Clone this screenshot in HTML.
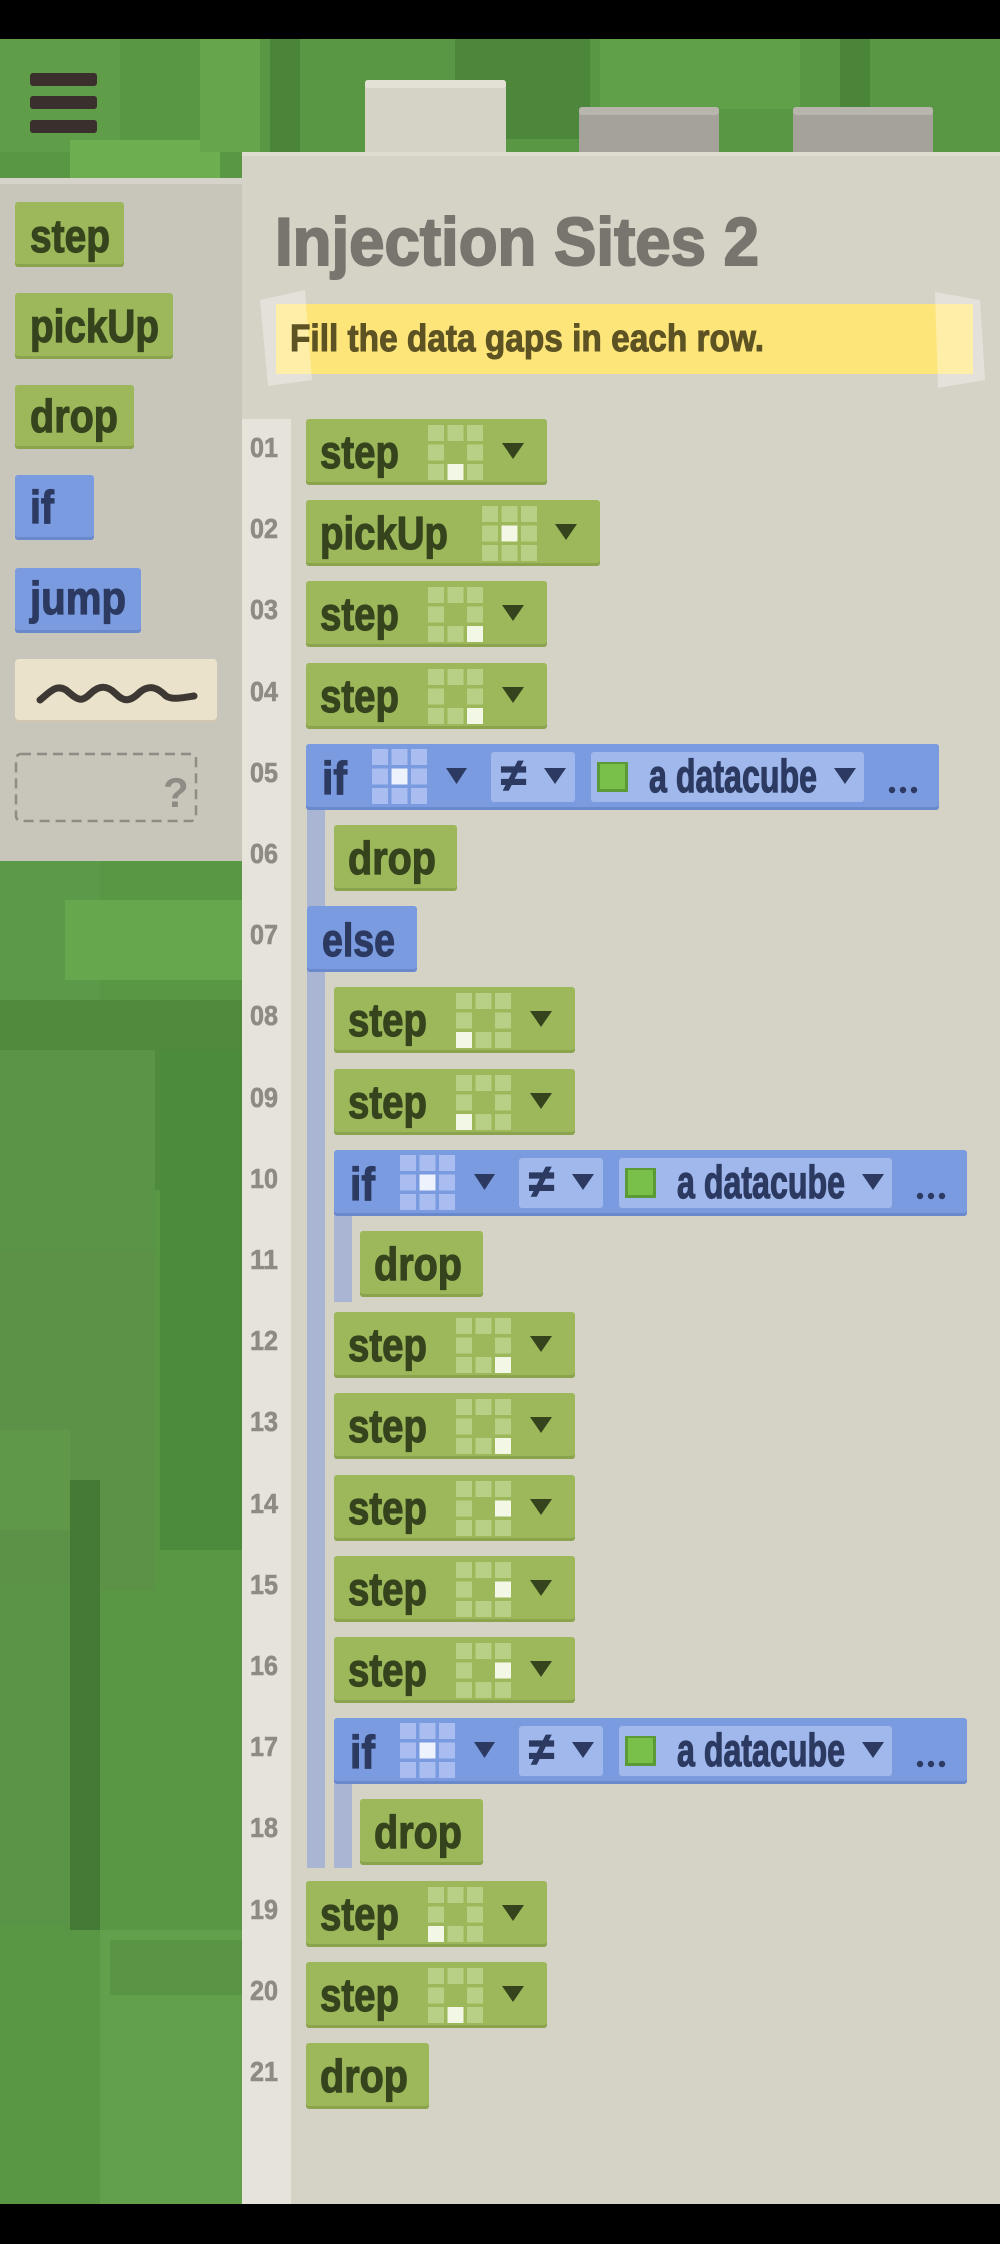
<!DOCTYPE html>
<html><head><meta charset="utf-8"><style>
html,body{margin:0;padding:0;background:#000;}
svg{display:block;}
.g{font-family:"Liberation Sans",sans-serif;font-weight:bold;font-size:46px;fill:#36441e;stroke:#36441e;stroke-width:1.2px;}
.b{font-family:"Liberation Sans",sans-serif;font-weight:bold;font-size:46px;fill:#2c3a62;stroke:#2c3a62;stroke-width:1.2px;}
.n{font-family:"Liberation Sans",sans-serif;font-weight:bold;font-size:28px;fill:#8e8b84;stroke:#8e8b84;stroke-width:0.6px;}
.w{fill:#f3f7e6;}
</style></head><body>
<svg width="1000" height="2244" viewBox="0 0 1000 2244" xmlns="http://www.w3.org/2000/svg">
<defs>
 <g id="gg" fill="#b8cf86">
  <rect x="0" y="0" width="16" height="16"/><rect x="19.5" y="0" width="16" height="16"/><rect x="39" y="0" width="16" height="16"/>
  <rect x="0" y="19.5" width="16" height="16"/><rect x="39" y="19.5" width="16" height="16"/>
  <rect x="0" y="39" width="16" height="16"/><rect x="19.5" y="39" width="16" height="16"/><rect x="39" y="39" width="16" height="16"/>
 </g>
 <g id="bg" fill="#a9bdf0">
  <rect x="0" y="0" width="16" height="16"/><rect x="19.5" y="0" width="16" height="16"/><rect x="39" y="0" width="16" height="16"/>
  <rect x="0" y="19.5" width="16" height="16"/><rect x="19.5" y="19.5" width="16" height="16" fill="#eef2fc"/><rect x="39" y="19.5" width="16" height="16"/>
  <rect x="0" y="39" width="16" height="16"/><rect x="19.5" y="39" width="16" height="16"/><rect x="39" y="39" width="16" height="16"/>
 </g>
 <g id="stepbg">
  <rect x="0" y="3" width="241" height="63" rx="3" fill="#8aa34c"/>
  <rect x="0" y="0" width="241" height="63" rx="3" fill="#9cb85a"/>
  <polygon points="196,24 218,24 207,40" fill="#36441e"/>
 </g>
 <g id="pickbg">
  <rect x="0" y="3" width="294" height="63" rx="3" fill="#8aa34c"/>
  <rect x="0" y="0" width="294" height="63" rx="3" fill="#9cb85a"/>
  <polygon points="249,24 271,24 260,40" fill="#36441e"/>
 </g>
 <g id="dropbg">
  <rect x="0" y="3" width="123" height="63" rx="3" fill="#8aa34c"/>
  <rect x="0" y="0" width="123" height="63" rx="3" fill="#9cb85a"/>
 </g>
 <g id="ifbg">
  <rect x="0" y="3" width="633" height="63" rx="3" fill="#6a88cc"/>
  <rect x="0" y="0" width="633" height="63" rx="3" fill="#7a9be0"/>
  <use href="#bg" x="66" y="5"/>
  <polygon points="140,24 161,24 150.5,40" fill="#2c3a62"/>
  <rect x="185" y="8" width="84" height="50" rx="3" fill="#a0b8ec"/>
  <polygon points="238,24 260,24 249,40" fill="#2c3a62"/>
  <rect x="285" y="8" width="273" height="50" rx="3" fill="#a0b8ec"/>
  <rect x="291" y="18" width="31" height="30" fill="#5c9a38"/>
  <rect x="294" y="20" width="25" height="25" fill="#79c04a"/>
  <polygon points="528,24 550,24 539,40" fill="#2c3a62"/>
  <circle cx="586" cy="46" r="3.2" fill="#2c3a62"/><circle cx="597" cy="46" r="3.2" fill="#2c3a62"/><circle cx="608" cy="46" r="3.2" fill="#2c3a62"/>
 </g>
</defs>

<rect x="0" y="0" width="1000" height="2244" fill="#000"/>
<rect x="0" y="39" width="1000" height="2165" fill="#5a9745"/>
<rect x="0" y="39" width="120" height="113" fill="#5f9d48"/>
<rect x="70" y="140" width="150" height="40" fill="#6cae50"/>
<rect x="200" y="39" width="60" height="113" fill="#66a54c"/>
<rect x="270" y="39" width="30" height="113" fill="#4b853a"/>
<rect x="455" y="39" width="135" height="100" fill="#4d873c"/>
<rect x="600" y="39" width="200" height="70" fill="#60a049"/>
<rect x="840" y="39" width="30" height="113" fill="#4b853a"/>
<rect x="880" y="55" width="120" height="75" fill="#5a9745"/>
<rect x="0" y="861" width="100" height="140" fill="#5c9948"/>
<rect x="65" y="900" width="180" height="80" fill="#66a64c"/>
<rect x="0" y="1000" width="243" height="190" fill="#4f8a3d"/>
<rect x="0" y="1050" width="155" height="205" fill="#5a9447"/>
<rect x="0" y="1250" width="155" height="340" fill="#5b9247"/>
<rect x="160" y="1050" width="83" height="500" fill="#4c8a3c"/>
<rect x="0" y="1430" width="70" height="100" fill="#5e9848"/>
<rect x="70" y="1480" width="30" height="450" fill="#447a35"/>
<rect x="0" y="1585" width="70" height="340" fill="#5a9447"/>
<rect x="100" y="1930" width="143" height="274" fill="#63a04b"/>
<rect x="110" y="1940" width="133" height="55" fill="#5a9545"/>

<rect x="30" y="73" width="67" height="13" rx="3" fill="#3a2f2c"/>
<rect x="30" y="96" width="67" height="13" rx="3" fill="#3a2f2c"/>
<rect x="30" y="120" width="67" height="13" rx="3" fill="#3a2f2c"/>

<rect x="365" y="80" width="141" height="80" rx="3" fill="#d5d2c6"/>
<rect x="365" y="80" width="141" height="8" rx="3" fill="#e3e0d6"/>
<rect x="579" y="107" width="140" height="50" rx="3" fill="#a5a299"/>
<rect x="579" y="107" width="140" height="8" rx="3" fill="#b8b5ad"/>
<rect x="793" y="107" width="140" height="50" rx="3" fill="#a5a299"/>
<rect x="793" y="107" width="140" height="8" rx="3" fill="#b8b5ad"/>

<rect x="0" y="178" width="243" height="683" fill="#c8c5bb"/>
<rect x="0" y="178" width="243" height="6" fill="#d6d3ca"/>

<rect x="242" y="152" width="758" height="2052" fill="#d5d2c6"/>
<rect x="242" y="152" width="758" height="4" fill="#dfdcd2"/>
<rect x="242" y="419" width="49" height="1785" fill="#e6e3da"/>

<rect x="15" y="205" width="109" height="62" rx="3" fill="#8aa34c"/><rect x="15" y="202" width="109" height="62" rx="3" fill="#9cb85a"/>
<text x="30" y="252" class="g" textLength="80" lengthAdjust="spacingAndGlyphs">step</text>
<rect x="15" y="296" width="158" height="63" rx="3" fill="#8aa34c"/><rect x="15" y="293" width="158" height="63" rx="3" fill="#9cb85a"/>
<text x="30" y="342" class="g" textLength="129" lengthAdjust="spacingAndGlyphs">pickUp</text>
<rect x="15" y="388" width="119" height="61" rx="3" fill="#8aa34c"/><rect x="15" y="385" width="119" height="61" rx="3" fill="#9cb85a"/>
<text x="30" y="432" class="g" textLength="88" lengthAdjust="spacingAndGlyphs">drop</text>
<rect x="15" y="478" width="79" height="62" rx="3" fill="#6a88cc"/><rect x="15" y="475" width="79" height="62" rx="3" fill="#7a9be0"/>
<text x="30" y="523" class="b" textLength="24" lengthAdjust="spacingAndGlyphs">if</text>
<rect x="15" y="571" width="126" height="62" rx="3" fill="#6a88cc"/><rect x="15" y="568" width="126" height="62" rx="3" fill="#7a9be0"/>
<text x="30" y="614" class="b" textLength="96" lengthAdjust="spacingAndGlyphs">jump</text>
<rect x="15" y="662" width="202" height="61" rx="4" fill="#cfc5b2"/><rect x="15" y="659" width="202" height="61" rx="4" fill="#ebe2cc"/>
<path d="M40 700 C50 692 56 684 66 690 C76 698 80 704 90 694 C100 684 108 686 116 694 C124 702 130 702 140 692 C150 684 158 688 166 696 C172 700 182 698 194 696" fill="none" stroke="#3d3833" stroke-width="7" stroke-linecap="round"/>
<rect x="16" y="754" width="180" height="67" rx="5" fill="none" stroke="#8f8c86" stroke-width="2.5" stroke-dasharray="10,6"/>
<text x="163" y="807" font-family="Liberation Sans,sans-serif" font-weight="bold" font-size="42" fill="#8f8c86">?</text>

<text x="275" y="265" font-family="Liberation Sans,sans-serif" font-weight="bold" font-size="68" fill="#78746e" stroke="#78746e" stroke-width="2" textLength="484" lengthAdjust="spacingAndGlyphs">Injection Sites 2</text>

<rect x="276" y="304" width="697" height="70" fill="#fde57a"/>
<polygon points="260,300 305,290 312,380 268,386" fill="#ffffff" opacity="0.35"/>
<polygon points="935,292 980,300 985,380 938,388" fill="#ffffff" opacity="0.35"/>
<text x="290" y="351" font-family="Liberation Sans,sans-serif" font-weight="bold" font-size="38" fill="#5c5223" stroke="#5c5223" stroke-width="1" textLength="474" lengthAdjust="spacingAndGlyphs">Fill the data gaps in each row.</text>

<rect x="307" y="807" width="18" height="100" fill="#a9b5d2"/>
<rect x="307" y="969" width="18" height="899" fill="#a9b5d2"/>
<rect x="334" y="1213" width="18" height="89" fill="#a9b5d2"/>
<rect x="334" y="1781" width="18" height="87" fill="#a9b5d2"/>

<text x="250" y="457" class="n" textLength="28" lengthAdjust="spacingAndGlyphs">01</text>
<text x="250" y="538" class="n" textLength="28" lengthAdjust="spacingAndGlyphs">02</text>
<text x="250" y="619" class="n" textLength="28" lengthAdjust="spacingAndGlyphs">03</text>
<text x="250" y="701" class="n" textLength="28" lengthAdjust="spacingAndGlyphs">04</text>
<text x="250" y="782" class="n" textLength="28" lengthAdjust="spacingAndGlyphs">05</text>
<text x="250" y="863" class="n" textLength="28" lengthAdjust="spacingAndGlyphs">06</text>
<text x="250" y="944" class="n" textLength="28" lengthAdjust="spacingAndGlyphs">07</text>
<text x="250" y="1025" class="n" textLength="28" lengthAdjust="spacingAndGlyphs">08</text>
<text x="250" y="1107" class="n" textLength="28" lengthAdjust="spacingAndGlyphs">09</text>
<text x="250" y="1188" class="n" textLength="28" lengthAdjust="spacingAndGlyphs">10</text>
<text x="250" y="1269" class="n" textLength="28" lengthAdjust="spacingAndGlyphs">11</text>
<text x="250" y="1350" class="n" textLength="28" lengthAdjust="spacingAndGlyphs">12</text>
<text x="250" y="1431" class="n" textLength="28" lengthAdjust="spacingAndGlyphs">13</text>
<text x="250" y="1513" class="n" textLength="28" lengthAdjust="spacingAndGlyphs">14</text>
<text x="250" y="1594" class="n" textLength="28" lengthAdjust="spacingAndGlyphs">15</text>
<text x="250" y="1675" class="n" textLength="28" lengthAdjust="spacingAndGlyphs">16</text>
<text x="250" y="1756" class="n" textLength="28" lengthAdjust="spacingAndGlyphs">17</text>
<text x="250" y="1837" class="n" textLength="28" lengthAdjust="spacingAndGlyphs">18</text>
<text x="250" y="1919" class="n" textLength="28" lengthAdjust="spacingAndGlyphs">19</text>
<text x="250" y="2000" class="n" textLength="28" lengthAdjust="spacingAndGlyphs">20</text>
<text x="250" y="2081" class="n" textLength="28" lengthAdjust="spacingAndGlyphs">21</text>

<g transform="translate(306,419)"><use href="#stepbg"/><text x="14" y="49" class="g" textLength="79" lengthAdjust="spacingAndGlyphs">step</text><use href="#gg" x="122" y="6"/><rect class="w" x="141.5" y="45" width="16" height="16"/></g>
<g transform="translate(306,500)"><use href="#pickbg"/><text x="14" y="49" class="g" textLength="128" lengthAdjust="spacingAndGlyphs">pickUp</text><use href="#gg" x="176" y="6"/><rect class="w" x="195.5" y="25.5" width="16" height="16"/></g>
<g transform="translate(306,581)"><use href="#stepbg"/><text x="14" y="49" class="g" textLength="79" lengthAdjust="spacingAndGlyphs">step</text><use href="#gg" x="122" y="6"/><rect class="w" x="161" y="45" width="16" height="16"/></g>
<g transform="translate(306,663)"><use href="#stepbg"/><text x="14" y="49" class="g" textLength="79" lengthAdjust="spacingAndGlyphs">step</text><use href="#gg" x="122" y="6"/><rect class="w" x="161" y="45" width="16" height="16"/></g>
<g transform="translate(306,744)"><use href="#ifbg"/><text x="16" y="50" class="b" textLength="25" lengthAdjust="spacingAndGlyphs">if</text><text x="195" y="47" class="b" font-size="36">≠</text><text x="343" y="48" class="b" font-size="42" textLength="168" lengthAdjust="spacingAndGlyphs">a datacube</text></g>
<g transform="translate(334,825)"><use href="#dropbg"/><text x="14" y="49" class="g" textLength="88" lengthAdjust="spacingAndGlyphs">drop</text></g>
<g transform="translate(307,906)"><rect x="0" y="3" width="110" height="63" rx="3" fill="#6a88cc"/><rect x="0" y="0" width="110" height="63" rx="3" fill="#7a9be0"/><text x="15" y="50" class="b" textLength="73" lengthAdjust="spacingAndGlyphs">else</text></g>
<g transform="translate(334,987)"><use href="#stepbg"/><text x="14" y="49" class="g" textLength="79" lengthAdjust="spacingAndGlyphs">step</text><use href="#gg" x="122" y="6"/><rect class="w" x="122" y="45" width="16" height="16"/></g>
<g transform="translate(334,1069)"><use href="#stepbg"/><text x="14" y="49" class="g" textLength="79" lengthAdjust="spacingAndGlyphs">step</text><use href="#gg" x="122" y="6"/><rect class="w" x="122" y="45" width="16" height="16"/></g>
<g transform="translate(334,1150)"><use href="#ifbg"/><text x="16" y="50" class="b" textLength="25" lengthAdjust="spacingAndGlyphs">if</text><text x="195" y="47" class="b" font-size="36">≠</text><text x="343" y="48" class="b" font-size="42" textLength="168" lengthAdjust="spacingAndGlyphs">a datacube</text></g>
<g transform="translate(360,1231)"><use href="#dropbg"/><text x="14" y="49" class="g" textLength="88" lengthAdjust="spacingAndGlyphs">drop</text></g>
<g transform="translate(334,1312)"><use href="#stepbg"/><text x="14" y="49" class="g" textLength="79" lengthAdjust="spacingAndGlyphs">step</text><use href="#gg" x="122" y="6"/><rect class="w" x="161" y="45" width="16" height="16"/></g>
<g transform="translate(334,1393)"><use href="#stepbg"/><text x="14" y="49" class="g" textLength="79" lengthAdjust="spacingAndGlyphs">step</text><use href="#gg" x="122" y="6"/><rect class="w" x="161" y="45" width="16" height="16"/></g>
<g transform="translate(334,1475)"><use href="#stepbg"/><text x="14" y="49" class="g" textLength="79" lengthAdjust="spacingAndGlyphs">step</text><use href="#gg" x="122" y="6"/><rect class="w" x="161" y="25.5" width="16" height="16"/></g>
<g transform="translate(334,1556)"><use href="#stepbg"/><text x="14" y="49" class="g" textLength="79" lengthAdjust="spacingAndGlyphs">step</text><use href="#gg" x="122" y="6"/><rect class="w" x="161" y="25.5" width="16" height="16"/></g>
<g transform="translate(334,1637)"><use href="#stepbg"/><text x="14" y="49" class="g" textLength="79" lengthAdjust="spacingAndGlyphs">step</text><use href="#gg" x="122" y="6"/><rect class="w" x="161" y="25.5" width="16" height="16"/></g>
<g transform="translate(334,1718)"><use href="#ifbg"/><text x="16" y="50" class="b" textLength="25" lengthAdjust="spacingAndGlyphs">if</text><text x="195" y="47" class="b" font-size="36">≠</text><text x="343" y="48" class="b" font-size="42" textLength="168" lengthAdjust="spacingAndGlyphs">a datacube</text></g>
<g transform="translate(360,1799)"><use href="#dropbg"/><text x="14" y="49" class="g" textLength="88" lengthAdjust="spacingAndGlyphs">drop</text></g>
<g transform="translate(306,1881)"><use href="#stepbg"/><text x="14" y="49" class="g" textLength="79" lengthAdjust="spacingAndGlyphs">step</text><use href="#gg" x="122" y="6"/><rect class="w" x="122" y="45" width="16" height="16"/></g>
<g transform="translate(306,1962)"><use href="#stepbg"/><text x="14" y="49" class="g" textLength="79" lengthAdjust="spacingAndGlyphs">step</text><use href="#gg" x="122" y="6"/><rect class="w" x="141.5" y="45" width="16" height="16"/></g>
<g transform="translate(306,2043)"><use href="#dropbg"/><text x="14" y="49" class="g" textLength="88" lengthAdjust="spacingAndGlyphs">drop</text></g>

<rect x="0" y="2204" width="1000" height="40" fill="#000"/>
</svg>
</body></html>
